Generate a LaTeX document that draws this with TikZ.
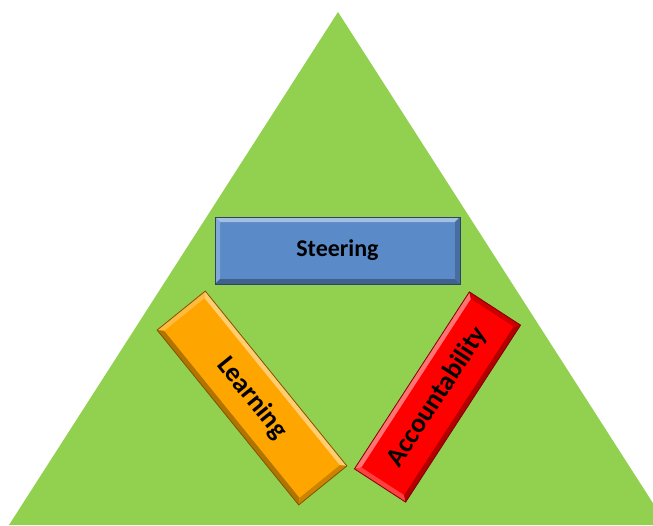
\documentclass[tikz,border=0pt]{standalone}
\usepackage{fontspec}
\setmainfont{Carlito}
\definecolor{tri}{HTML}{92D050}
\definecolor{bluebox}{HTML}{5A8AC8}
\definecolor{orangebox}{HTML}{FFA500}
\definecolor{redbox}{HTML}{FF0000}
\tikzset{
  boxlabel/.style={transform shape, inner sep=0pt, text=black, font=\fontsize{#1}{#1}\selectfont\bfseries},
}
% name, x, y, angle, width, height, colour, font size, text
\newcommand{\bevelbox}[9]{%
\begin{scope}[shift={(#2,#3)}, rotate=#4]
  \pgfmathsetmacro\hw{#5/2}
  \pgfmathsetmacro\hh{#6/2}
  \def\bd{5}
  \fill[#7] (-\hw,-\hh) rectangle (\hw,\hh);
  \fill[#7!55!white] (-\hw,-\hh) -- (\hw,-\hh) -- (\hw-\bd,-\hh+\bd) -- (-\hw+\bd,-\hh+\bd) -- cycle;
  \fill[#7!75!white] (-\hw,-\hh) -- (-\hw+\bd,-\hh+\bd) -- (-\hw+\bd,\hh-\bd) -- (-\hw,\hh) -- cycle;
  \fill[#7!70!black] (-\hw,\hh) -- (-\hw+\bd,\hh-\bd) -- (\hw-\bd,\hh-\bd) -- (\hw,\hh) -- cycle;
  \fill[#7!80!black] (\hw,-\hh) -- (\hw,\hh) -- (\hw-\bd,\hh-\bd) -- (\hw-\bd,-\hh+\bd) -- cycle;
  \draw[#7!50!black, line width=0.8pt] (-\hw,-\hh) rectangle (\hw,\hh);
  \node[boxlabel=#8] (#1) at (0,0) {#9};
\end{scope}}
\begin{document}
\begin{tikzpicture}[x=1pt,y=-1pt]
\useasboundingbox (0,0) rectangle (653,525);
\begin{scope}
\clip (0,0) rectangle (653,525);
\fill[tri] (338,12) -- (667,525) -- (9,525) -- cycle;
\end{scope}
\bevelbox{steer}{337.5}{250.5}{0}{245}{67}{bluebox}{24}{Steering}
\bevelbox{learn}{252}{398}{-51}{225}{62}{orangebox}{27}{Learning}
\bevelbox{acc}{437.5}{397}{57}{211}{61}{redbox}{27}{Accountability}
\end{tikzpicture}
\end{document}
